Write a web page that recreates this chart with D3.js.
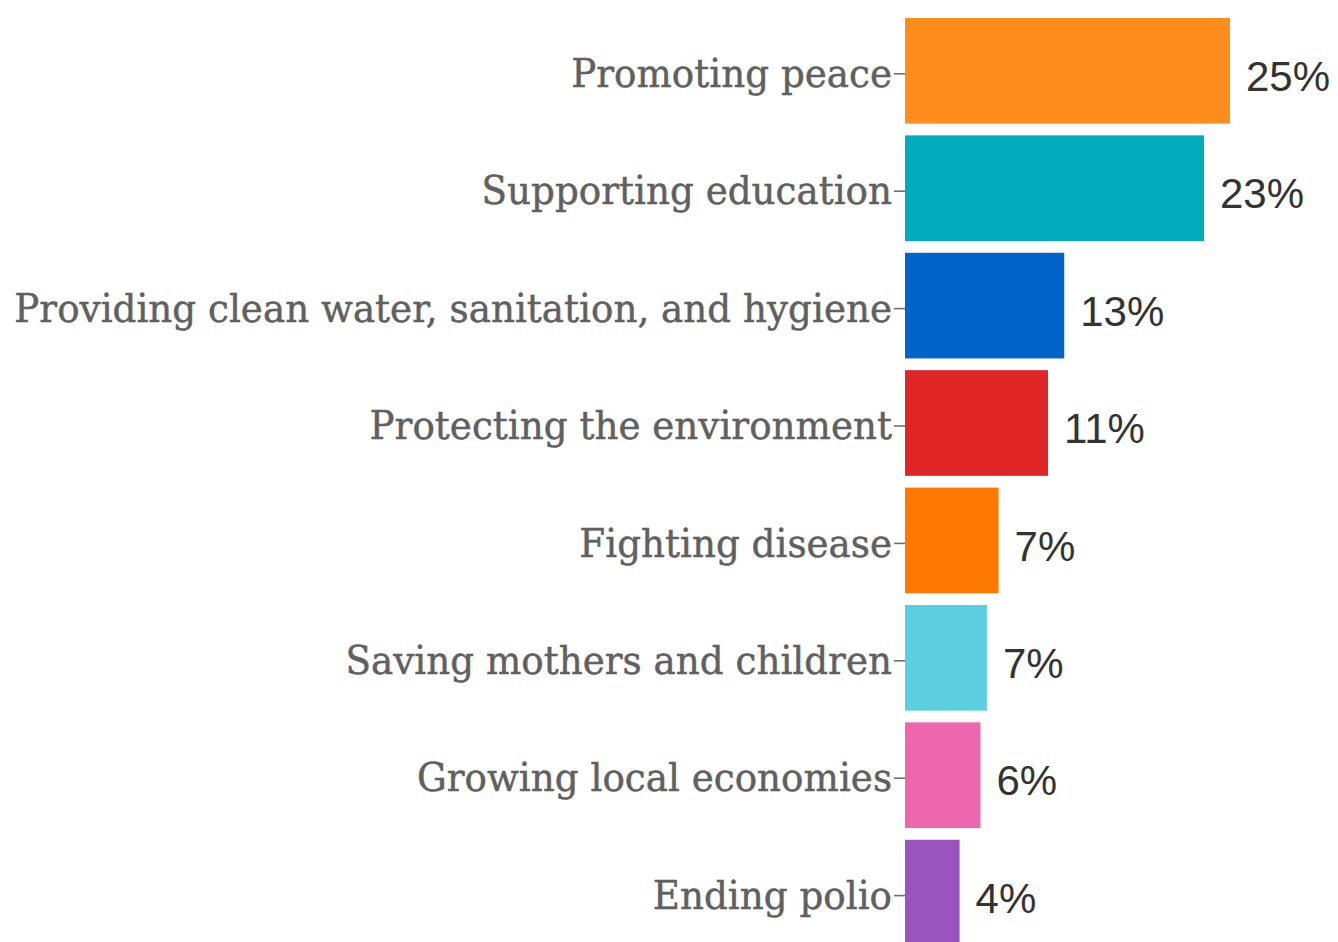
<!DOCTYPE html>
<html>
<head>
<meta charset="utf-8">
<script src="https://cdn.jsdelivr.net/npm/d3@7"></script>
<style>
html,body{margin:0;padding:0;background:#fff;overflow:hidden;}
svg{display:block;}
</style>
</head>
<body>
<svg id="chart" width="1338" height="942"></svg>
<script>
const categories = [
  "Promoting peace",
  "Supporting education",
  "Providing clean water, sanitation, and hygiene",
  "Protecting the environment",
  "Fighting disease",
  "Saving mothers and children",
  "Growing local economies",
  "Ending polio"
];
const values = [25.0, 23.0, 12.25, 11.0, 7.2, 6.3, 5.8, 4.2];
const valueLabels = ["25%", "23%", "13%", "11%", "7%", "7%", "6%", "4%"];
const colors = ["#FF8D1E", "#00ACBC", "#0063C9", "#E02526", "#FF7900", "#5BCFDF", "#EE66AE", "#9A54C0"];

const svg = d3.select("#chart");
const left = 905;

const x = d3.scaleLinear().domain([0, 25]).range([left, left + 325]);
const y = d3.scaleBand().domain(categories).range([12.1, 951.3])
  .paddingInner(0.1).paddingOuter(0.05);

const data = categories.map((c, i) => ({c, v: values[i], label: valueLabels[i], color: colors[i]}));

svg.selectAll("rect.bar").data(data).enter().append("rect")
  .attr("class", "bar")
  .attr("x", x(0))
  .attr("y", d => y(d.c))
  .attr("width", d => x(d.v) - x(0))
  .attr("height", y.bandwidth())
  .attr("fill", d => d.color);

const axis = d3.axisLeft(y).tickSize(11).tickPadding(2);
const g = svg.append("g").attr("transform", `translate(${left},3)`).call(axis);
g.select(".domain").remove();
g.selectAll(".tick line").attr("stroke", "#6f6f6f").attr("stroke-width", 1.6);
const fs = 40;
g.selectAll(".tick text")
  .attr("fill", "#606060")
  .attr("stroke", "#606060")
  .attr("stroke-width", 0.5)
  .style("font-family", "'DejaVu Serif', Georgia, serif")
  .style("font-size", fs + "px")
  .attr("dy", "0.33em");

// horizontally condense labels so longest fits the reference width (~878px)
let maxW = 0;
g.selectAll(".tick text").each(function(){ maxW = Math.max(maxW, this.getComputedTextLength()); });
const k = 878 / maxW;
g.selectAll(".tick text")
  .attr("transform", `scale(${k},1)`)
  .attr("x", -13 / k);

svg.selectAll("text.val").data(data).enter().append("text")
  .attr("class", "val")
  .attr("x", d => x(d.v) + 16)
  .attr("y", d => y(d.c) + y.bandwidth() / 2 + 5)
  .attr("dy", "0.36em")
  .attr("fill", "#333")
  .style("font-family", "'Liberation Sans', Arial, sans-serif")
  .style("font-size", "42px")
  .text(d => d.label);
</script>
</body>
</html>
